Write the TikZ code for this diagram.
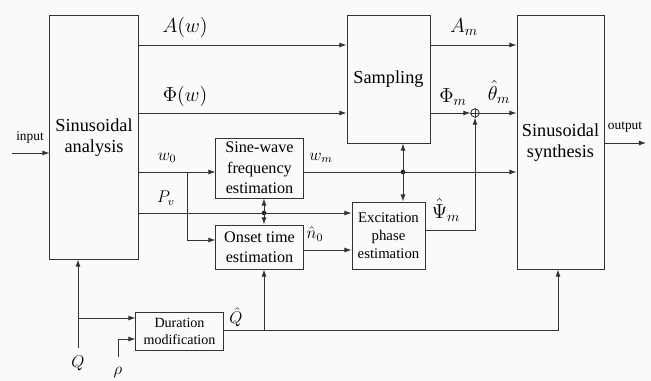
\documentclass[tikz,border=0pt]{standalone}
\usepackage{fontspec}
\setmainfont{Liberation Serif}
\usetikzlibrary{arrows.meta}
\tikzset{
  blk/.style={draw, line width=0.7pt, align=center, inner sep=0pt},
  big/.style={font=\fontsize{13}{15}\selectfont},
  mid/.style={font=\fontsize{11.5}{14.5}\selectfont},
  sml/.style={font=\fontsize{10}{12}\selectfont},
  dot/.style={circle, fill, inner sep=0pt, minimum size=3.2pt},
  lbl/.style={inner sep=0.5pt},
}

\begin{document}
\begin{tikzpicture}[x=0.025cm,y=-0.025cm,>={Latex[length=5pt,width=3.5pt]},line width=0.6pt,draw=black!80]
    \fill[black!2] (0,0) rectangle (651,381);
    \useasboundingbox (0,0) rectangle (651,381);

    % blocks
    \node[blk,big,minimum width=2.2cm,minimum height=6.075cm] (ana) at (94,137.5){Sinusoidal\\analysis};
    \node[blk,big,minimum width=2.075cm,minimum height=3.175cm] (samp) at (388.5,79.5){Sampling};
    \node[blk,big,minimum width=2.175cm,minimum height=6.325cm] (syn) at (560.5,142.5){Sinusoidal\\synthesis};
    \node[blk,mid,minimum width=2.175cm,minimum height=1.5cm] (sine) at (259.5,168){Sine-wave\\frequency\\estimation};
    \node[blk,mid,minimum width=2.175cm,minimum height=1.1cm] (onset) at (259.5,247){Onset time\\estimation};
    \node[blk,font=\fontsize{10.5}{13}\selectfont,minimum width=1.825cm,minimum height=1.675cm] (exc) at (388.5,235.5){Excitation\\phase\\estimation};
    \node[blk,sml,minimum width=2.175cm,minimum height=0.95cm] (dur) at (179.5,331){Duration\\modification};
    \node[draw,circle,minimum size=0.21cm,inner sep=0pt] (sum) at (475,113){};
    \draw[line width=0.4pt] (sum.north) -- (sum.south) (sum.west) -- (sum.east);

    % free ends and junctions
    \coordinate (in) at (12,153);
    \coordinate (out) at (646,143);
    \coordinate (aw) at (138,45);
    \coordinate (phw) at (138,113);
    \coordinate (w0) at (138,172);
    \coordinate (pv) at (138,213);
    \coordinate (br) at (187,172);
    \coordinate (bon) at (187,240);
    \coordinate (q) at (78,348);
    \coordinate (qb) at (78,318);
    \coordinate (rho) at (118,357);
    \coordinate (rhob) at (118,339);
    \coordinate (qh) at (223,330);
    \coordinate (qhs) at (558,330);
    \coordinate (qho) at (264,330);
    \coordinate (psi) at (475,230);
    \node[dot] (d1) at (264,213){};
    \node[dot] (d2) at (403,172){};

    % connectors
    \draw[->] (in) -- (in -| ana.west);
    \draw[->] (aw) -- (aw -| samp.west);
    \draw[->] (phw) -- (phw -| samp.west);
    \draw[->] (w0) -- (w0 -| sine.west);
    \draw[->] (br) -- (bon) -- (bon -| onset.west);
    \draw[->] (pv) -- (pv -| exc.west);
    \draw[<->] (d1 |- sine.south) -- (d1 |- onset.north);
    \draw[->] (sine.east |- w0) -- (w0 -| syn.west);
    \draw[<->] (d2 |- samp.south) -- (d2 |- exc.north);
    \draw[->] (onset.east |- 0,250) -- (exc.west |- 0,250);
    \draw[->] (exc.east |- psi) -- (psi) -- (sum.south);
    \draw[->] (samp.east |- aw) -- (aw -| syn.west);
    \draw[->] (samp.east |- phw) -- (sum.west);
    \draw[->] (sum.east) -- (phw -| syn.west);
    \draw[->] (syn.east |- out) -- (out);
    \draw[->] (q) -- (q |- ana.south);
    \draw[->] (qb) -- (qb -| dur.west);
    \draw[->] (rho) -- (rhob) -- (rhob -| dur.west);
    \draw[->] (qh) -- (qhs) -- (qhs |- syn.south);
    \draw[->] (qho) -- (qho |- onset.south);

    % labels
    \node[lbl,font=\fontsize{9.5}{11}\selectfont] (lin) at (30,137){input};
    \node[lbl,font=\fontsize{9.5}{11}\selectfont] (lout) at (625,127){output};
    \node[lbl,font=\Large] (la) at (185,27){$A(w)$};
    \node[lbl,font=\Large] (lph) at (185,96){$\Phi(w)$};
    \node[lbl,font=\large] (lw0) at (167,158){$w_0$};
    \node[lbl,font=\large] (lpv) at (166,198){$P_v$};
    \node[lbl,font=\large] (lwm) at (321,158){$w_m$};
    \node[lbl,font=\Large] (lam) at (464,27){$A_m$};
    \node[lbl,font=\Large] (lphm) at (453,97){$\Phi_m$};
    \node[lbl,font=\Large] (lth) at (499,92){$\hat{\theta}_m$};
    \node[lbl,font=\Large] (lpsi) at (446,210){$\hat{\Psi}_m$};
    \node[lbl,font=\large] (ln0) at (315,234){$\hat{n}_0$};
    \node[lbl,font=\large] (lqh) at (236,317){$\hat{Q}$};
    \node[lbl,font=\large] (lq) at (78,363){$Q$};
    \node[lbl,font=\large] (lrho) at (118,373){$\rho$};
\end{tikzpicture}
\end{document}
